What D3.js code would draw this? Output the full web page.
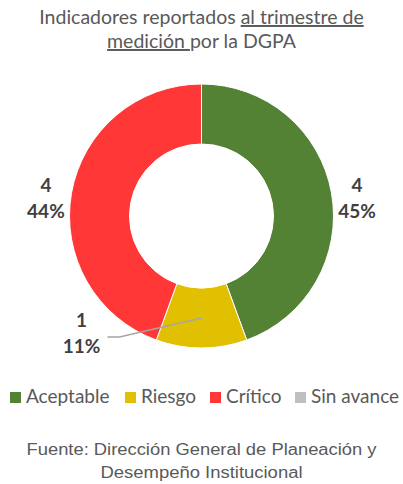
<!DOCTYPE html>
<html>
<head>
<meta charset="utf-8">
<script src="https://cdn.jsdelivr.net/npm/d3@7"></script>
<style>
  body { margin: 0; background: #fff; }
  text { font-family: Lato, "Noto Sans", sans-serif; }
</style>
</head>
<body>
<div id="chart"></div>
<script>
// data
var categories = ["Aceptable", "Riesgo", "Crítico", "Sin avance"];
var counts = [4, 1, 4, 0];
var pctLabels = ["45%", "11%", "44%", "0%"];
var colors = ["#548235", "#e0c000", "#ff3737", "#bfbfbf"];

var svgWidth = 403;
var svgHeight = 484;

var cx = 201.5, cy = 216;
var outerR = 132, innerR = 72;

var svg = d3.select("#chart")
  .append("svg")
  .attr("width", svgWidth)
  .attr("height", svgHeight);

// title, with the underlined bits
var title = svg.append("text")
  .attr("text-anchor", "middle")
  .attr("font-size", "19.5px")
  .attr("fill", "#595959");

var t1 = title.append("tspan").attr("x", svgWidth / 2).attr("y", 24);
t1.append("tspan").text("Indicadores reportados ");
t1.append("tspan").style("text-decoration", "underline").text("al trimestre de");

var t2 = title.append("tspan").attr("x", svgWidth / 2).attr("y", 48);
t2.append("tspan").style("text-decoration", "underline").style("white-space", "pre").text("medición ");
t2.append("tspan").text("por la DGPA");

// donut
var pie = d3.pie().sort(null).value(d => d);
var arcs = pie(counts);

var arc = d3.arc().innerRadius(innerR).outerRadius(outerR);
var midArc = d3.arc().innerRadius((innerR + outerR) / 2).outerRadius((innerR + outerR) / 2);
var labelArc = d3.arc().innerRadius(158).outerRadius(158);

var chartGroup = svg.append("g")
  .attr("transform", `translate(${cx}, ${cy})`);

chartGroup.selectAll("path")
  .data(arcs.filter(d => d.value > 0))
  .enter()
  .append("path")
  .attr("d", arc)
  .attr("fill", d => colors[d.index])
  .attr("stroke", "#fff")
  .attr("stroke-width", 1);

// data labels, small slice gets moved out with a leader line
var shown = arcs.filter(d => d.value > 0);
shown.forEach(function(d) {
  var pos = labelArc.centroid(d);
  var small = (d.endAngle - d.startAngle) < 1;
  var lx = pos[0], ly = pos[1] + 3;
  if (small) {
    lx = -120; ly = 111;
    var start = midArc.centroid(d);
    chartGroup.append("path")
      .attr("d", d3.line()([start, [-82, 121], [-94, 121]]))
      .attr("fill", "none")
      .attr("stroke", "#a6a6a6")
      .attr("stroke-width", 1.3);
  }
  var lbl = chartGroup.append("text")
    .attr("text-anchor", "middle")
    .attr("font-size", "19px")
    .attr("font-weight", "bold")
    .attr("fill", "#404040");
  lbl.append("tspan").attr("x", lx).attr("y", ly).text(d.value);
  lbl.append("tspan").attr("x", lx).attr("y", ly + 26).text(pctLabels[d.index]);
});

// legend
var legendX = [10, 125, 210, 295];
var legend = svg.append("g");
categories.forEach(function(c, i) {
  legend.append("rect")
    .attr("x", legendX[i])
    .attr("y", 392)
    .attr("width", 11)
    .attr("height", 11)
    .attr("fill", colors[i]);
  legend.append("text")
    .attr("x", legendX[i] + 16)
    .attr("y", 403)
    .attr("font-size", "19px")
    .attr("fill", "#595959")
    .text(c);
});

// source note (stretched a little, as in the picture)
var srcLines = ["Fuente: Dirección General de Planeación y", "Desempeño Institucional"];
var srcWidths = [350, 202];
srcLines.forEach(function(s, i) {
  svg.append("text")
    .attr("x", svgWidth / 2)
    .attr("y", 455 + i * 23)
    .attr("text-anchor", "middle")
    .attr("font-size", "16px")
    .attr("fill", "#595959")
    .attr("textLength", srcWidths[i])
    .attr("lengthAdjust", "spacingAndGlyphs")
    .style("font-family", "'Liberation Sans', Arial, sans-serif")
    .text(s);
});
</script>
</body>
</html>
